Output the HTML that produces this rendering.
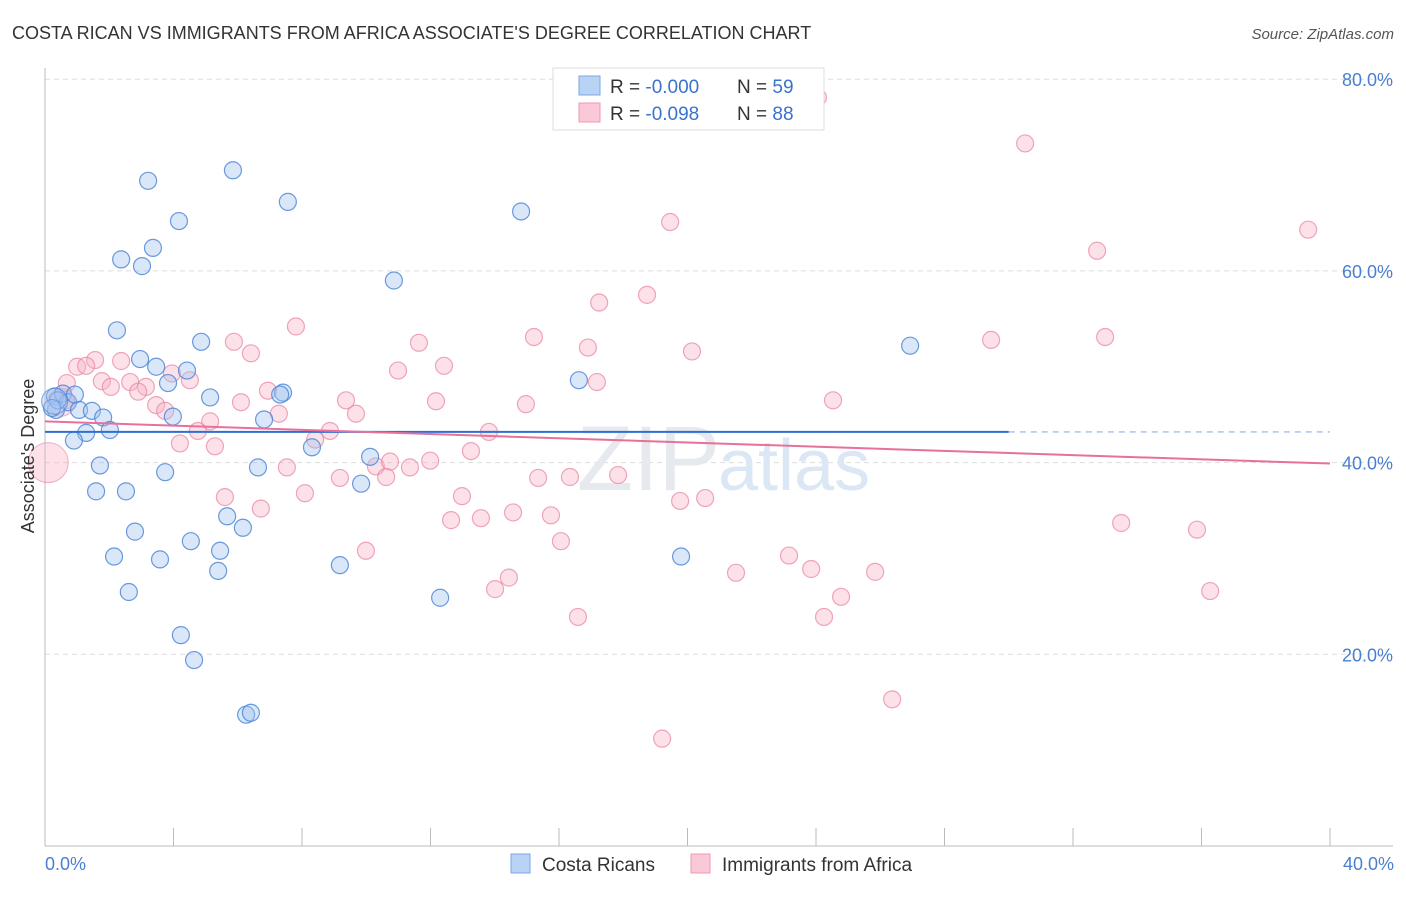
<!DOCTYPE html>
<html><head><meta charset="utf-8"><style>
body{margin:0;background:#fff;font-family:"Liberation Sans",sans-serif}
svg text{font-family:"Liberation Sans",sans-serif}
</style></head><body>
<svg width="1406" height="892" viewBox="0 0 1406 892" xmlns="http://www.w3.org/2000/svg">
<text x="12" y="39" font-size="18" fill="#333">COSTA RICAN VS IMMIGRANTS FROM AFRICA ASSOCIATE'S DEGREE CORRELATION CHART</text>
<text x="1394" y="39" font-size="15" fill="#555" text-anchor="end" font-style="italic">Source: ZipAtlas.com</text>
<g id="grid"></g>
<g id="axes"></g>
<text x="720" y="490" font-size="92" fill="#e6e9ee" text-anchor="end" font-family="Liberation Serif">ZIP</text>
<text x="718" y="490" font-size="72" fill="#dce7f5">atlas</text>
<g id="pts"></g>
<g id="trends"></g>
<text transform="translate(34,456) rotate(-90)" font-size="18" fill="#333" text-anchor="middle">Associate's Degree</text>
<text x="45" y="870" font-size="18" fill="#4a7fd0">0.0%</text>
<text x="1394" y="870" font-size="18" fill="#4a7fd0" text-anchor="end">40.0%</text>
<g>
<rect x="553" y="68" width="271" height="62" fill="#fff" stroke="#ddd"/>
<rect x="579" y="76" width="21" height="19" fill="#b9d3f5" stroke="#7aa7e6"/>
<rect x="579" y="103" width="21" height="19" fill="#fac8d6" stroke="#ec9ab2"/>
<text x="610" y="93" font-size="19" fill="#333">R = <tspan fill="#3a72cc">-0.000</tspan></text>
<text x="737" y="93" font-size="19" fill="#333">N = <tspan fill="#3a72cc">59</tspan></text>
<text x="610" y="120" font-size="19" fill="#333">R = <tspan fill="#3a72cc"> -0.098</tspan></text>
<text x="737" y="120" font-size="19" fill="#333">N = <tspan fill="#3a72cc">88</tspan></text>
</g>
<g>
<rect x="511" y="854" width="19" height="19" fill="#b9d3f5" stroke="#7aa7e6"/>
<text x="542" y="871" font-size="19" fill="#333">Costa Ricans</text>
<rect x="691" y="854" width="19" height="19" fill="#fac8d6" stroke="#ec9ab2"/>
<text x="722" y="871" font-size="19" fill="#333">Immigrants from Africa</text>
</g>
</svg>
<script>
const yTicks=[20,40,60,80];
const xTicks=[0,4,8,12,16,20,24,28,32,36,40];
const blueX=[3.21,5.85,4.17,7.56,14.82,3.36,2.37,3.02,10.86,2.24,4.86,2.96,3.46,4.42,3.83,16.62,5.14,7.41,7.32,26.93,0.31,0.56,0.72,0.34,1.06,1.46,1.81,3.98,6.82,2.02,1.28,0.90,8.31,10.12,1.71,6.63,3.74,9.84,1.59,2.52,5.67,6.16,2.80,4.54,2.15,3.58,5.45,19.80,9.18,5.39,2.61,12.30,4.23,4.64,6.26,6.41,0.40,0.22,0.93];
const blueY=[69.4,70.5,65.2,67.2,66.2,62.4,61.2,60.5,59.0,53.8,52.6,50.8,50.0,49.6,48.3,48.6,46.8,47.3,47.1,52.2,46.9,47.2,46.3,45.5,45.5,45.4,44.7,44.8,44.5,43.4,43.1,42.3,41.6,40.6,39.7,39.5,39.0,37.8,37.0,37.0,34.4,33.2,32.8,31.8,30.2,29.9,30.8,30.2,29.3,28.7,26.5,25.9,22.0,19.4,13.7,13.9,46.5,45.7,47.1];
const pinkX=[30.51,19.46,39.32,32.75,17.25,18.74,7.81,5.88,15.22,11.64,6.41,20.14,16.90,29.45,33.00,1.56,2.37,1.00,1.28,12.42,10.99,3.95,4.51,0.68,1.77,2.65,2.05,3.14,2.90,17.18,6.94,9.37,12.17,6.10,14.97,24.53,3.46,3.74,7.28,9.68,5.14,4.76,13.82,8.87,8.41,4.20,5.29,13.26,7.53,10.30,10.74,11.99,11.36,10.62,9.18,15.35,16.34,17.84,5.60,8.09,12.98,19.77,20.55,6.72,14.57,15.75,12.64,13.57,33.50,35.86,16.06,9.99,23.16,21.51,23.85,25.84,14.44,14.01,24.78,36.27,16.59,24.25,26.37,19.21,24.06,0.65];
const pinkY=[73.3,65.1,64.3,62.1,56.7,57.5,54.2,52.6,53.1,52.5,51.4,51.6,52.0,52.8,53.1,50.7,50.6,50.0,50.1,50.1,49.6,49.3,48.6,48.3,48.5,48.4,47.9,47.9,47.4,48.4,47.5,46.5,46.4,46.3,46.1,46.5,46.0,45.4,45.1,45.1,44.3,43.3,43.2,43.3,42.4,42.0,41.7,41.2,39.5,39.6,40.1,40.2,39.5,38.5,38.4,38.4,38.5,38.7,36.4,36.8,36.5,36.0,36.3,35.2,34.8,34.5,34.0,34.2,33.7,33.0,31.8,30.8,30.3,28.5,28.9,28.6,28.0,26.8,26.0,26.6,23.9,23.9,15.3,11.2,78.1,46.5];
const bigBlueX=[0.3], bigBlueY=[46.4];
const bigPinkX=[0.1,0.5], bigPinkY=[40.0,46.3];
const blueTrend=[43.2,43.2], pinkTrend=[44.3,39.9];
const blueSolidEnd=30;

const X0=45,X1=1330,Y0=846,YPER=191.7/20;
const sx=v=>X0+(v/40)*(X1-X0);
const sy=v=>Y0-v*YPER;
const NS='http://www.w3.org/2000/svg';
function mk(tag,attrs,parent){const e=document.createElementNS(NS,tag);for(const k in attrs)e.setAttribute(k,attrs[k]);parent.appendChild(e);return e;}
const grid=document.getElementById('grid'),axes=document.getElementById('axes'),pts=document.getElementById('pts'),tr=document.getElementById('trends');
yTicks.forEach(t=>{
 const l=mk('line',{x1:45,x2:1393,y1:sy(t),y2:sy(t),stroke:'#ddd','stroke-dasharray':'5,4'},grid);
 
 
 const tx=mk('text',{x:1393,y:sy(t)+7,'font-size':18,fill:'#4a7fd0','text-anchor':'end'},grid);
 tx.textContent=t.toFixed(1)+'%';
 
 
});
const ya=mk('line',{x1:45,x2:45,y1:68,y2:846,stroke:'#bbb'},axes);


const xa=mk('line',{x1:45,x2:1393,y1:846,y2:846,stroke:'#bbb'},axes);


xTicks.forEach(t=>{
 const l=mk('line',{x1:sx(t),x2:sx(t),y1:828,y2:846,stroke:'#bbb'},axes);
 
 
});
function dots(xs,ys,r,fill,stroke,name){
 xs.forEach((x,i)=>{
  const c=mk('circle',{cx:sx(x),cy:sy(ys[i]),r:r,fill:fill,stroke:stroke,'stroke-width':1.2},pts);
  
  
 });
}
dots(pinkX,pinkY,8.5,'rgba(248,180,200,0.4)','rgba(232,130,160,0.7)','point-immigrants');
dots(bigPinkX,bigPinkY,0,'','','');
bigPinkX.forEach((x,i)=>{
 const c=mk('circle',{cx:sx(x),cy:sy(bigPinkY[i]),r:i==0?20:14,fill:'rgba(248,180,200,0.4)',stroke:'rgba(232,130,160,0.6)'},pts);
 
 
});
dots(blueX,blueY,8.5,'rgba(160,195,240,0.4)','rgba(70,130,215,0.8)','point-costa-ricans');
bigBlueX.forEach((x,i)=>{
 const c=mk('circle',{cx:sx(x),cy:sy(bigBlueY[i]),r:13,fill:'rgba(160,195,240,0.4)',stroke:'rgba(70,130,215,0.7)'},pts);
 
 
});
const bys=v=>blueTrend[0]+(blueTrend[1]-blueTrend[0])*v/40;
const bl=mk('line',{x1:sx(0),y1:sy(bys(0)),x2:sx(blueSolidEnd),y2:sy(bys(blueSolidEnd)),stroke:'#2f6fd0','stroke-width':2},tr);


const bd=mk('line',{x1:sx(blueSolidEnd),y1:sy(bys(blueSolidEnd)),x2:sx(40),y2:sy(bys(40)),stroke:'#8fb0e0','stroke-width':1.2,'stroke-dasharray':'6,5'},tr);


const pl=mk('line',{x1:sx(0),y1:sy(pinkTrend[0]),x2:sx(40),y2:sy(pinkTrend[1]),stroke:'#e8709a','stroke-width':2},tr);


</script>
</body></html>
